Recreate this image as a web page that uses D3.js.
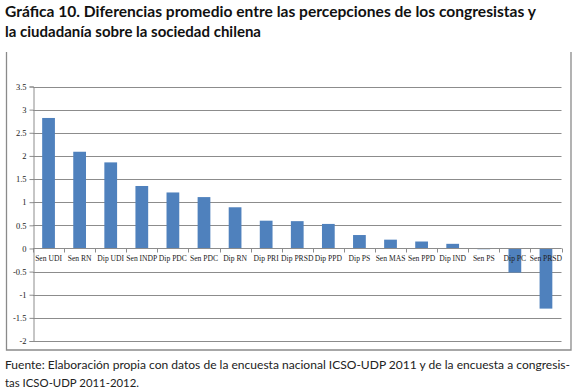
<!DOCTYPE html>
<html><head><meta charset="utf-8">
<script src="https://cdn.jsdelivr.net/npm/d3@7"></script>
<style>body{margin:0;background:#fff}svg{display:block}</style>
</head><body>
<script>
const categories = ["Sen UDI","Sen RN","Dip UDI","Sen INDP","Dip PDC","Sen PDC","Dip RN","Dip PRI","Dip PRSD","Dip PPD","Dip PS","Sen MAS","Sen PPD","Dip IND","Sen PS","Dip PC","Sen PRSD"];
const values = [2.82,2.09,1.86,1.35,1.21,1.11,0.89,0.60,0.59,0.53,0.29,0.19,0.15,0.10,-0.01,-0.52,-1.30];
const yTicks = [-2,-1.5,-1,-0.5,0,0.5,1,1.5,2,2.5,3,3.5];
const titleLines = ["Gráfica 10. Diferencias promedio entre las percepciones de los congresistas y","la ciudadanía sobre la sociedad chilena"];
const footLines = ["Fuente: Elaboración propia con datos de la encuesta nacional ICSO-UDP 2011 y de la encuesta a congresis-","tas ICSO-UDP 2011-2012."];

const W=577,H=392;
const svg=d3.select("body").append("svg").attr("width",W).attr("height",H);

// title
svg.append("text").attr("x",5).attr("y",17).attr("font-family","Lato, 'Open Sans', sans-serif").attr("font-weight","bold").attr("font-size",15.5).attr("fill","#111")
  .attr("textLength",531).attr("lengthAdjust","spacingAndGlyphs").text(titleLines[0]);
svg.append("text").attr("x",5).attr("y",37).attr("font-family","Lato, 'Open Sans', sans-serif").attr("font-weight","bold").attr("font-size",15.5).attr("fill","#111")
  .attr("textLength",256).attr("lengthAdjust","spacingAndGlyphs").text(titleLines[1]);

// frame (left, right, bottom)
const frame=svg.append("g").attr("stroke","#8a8a8a").attr("stroke-width",1.3).attr("fill","none");
frame.append("path").attr("d","M6.5,52 V350 H571 V52");

const m={l:33,r:561.5,t:86.5,b:341};
const y=d3.scaleLinear().domain([-2,3.5]).range([m.b,m.t]);
const x=d3.scaleBand().domain(categories).range([m.l,m.r]).paddingInner(0.59).paddingOuter(0.295);

// gridlines
svg.append("g").selectAll("line").data(yTicks).join("line")
  .attr("x1",m.l).attr("x2",m.r).attr("y1",d=>Math.round(y(d))+0.5).attr("y2",d=>Math.round(y(d))+0.5)
  .attr("stroke","#8c8c8c").attr("stroke-width",1);

// y axis
const ya=svg.append("g").attr("transform",`translate(${m.l+0.5},0)`)
  .call(d3.axisLeft(y).tickValues(yTicks).tickSize(4).tickPadding(3).tickFormat(d=>String(d)));
ya.select(".domain").attr("stroke","#8c8c8c");
ya.selectAll(".tick line").attr("stroke","#8c8c8c");
ya.selectAll(".tick text").attr("font-family","'Liberation Serif', serif").attr("font-size",8.5).attr("fill","#222");

// bars
svg.append("g").selectAll("rect").data(values).join("rect")
  .attr("x",(d,i)=>x(categories[i]))
  .attr("width",x.bandwidth())
  .attr("y",d=>y(Math.max(0,d)))
  .attr("height",d=>Math.max(0.8,Math.abs(y(d)-y(0))))
  .attr("fill","#4f81bd");

// x axis at zero
const xa=svg.append("g").attr("transform",`translate(0,${Math.round(y(0))+0.5})`);
xa.append("line").attr("x1",m.l).attr("x2",m.r).attr("stroke","#8c8c8c");
const step=x.step();
const bounds=d3.range(categories.length+1).map(i=>m.l+i*(m.r-m.l)/categories.length);
xa.selectAll("line.tk").data(bounds).join("line").attr("class","tk")
  .attr("x1",d=>Math.round(d)+0.5).attr("x2",d=>Math.round(d)+0.5).attr("y1",0).attr("y2",4).attr("stroke","#8c8c8c");
xa.selectAll("text").data(categories).join("text")
  .attr("x",d=>x(d)+x.bandwidth()/2).attr("y",12)
  .attr("text-anchor","middle").attr("font-family","'Liberation Serif', serif").attr("font-size",7.6).attr("fill","#222")
  .text(d=>d);

// footer
svg.append("text").attr("x",5).attr("y",369).attr("font-family","Lato, 'Open Sans', sans-serif").attr("font-size",12).attr("fill","#222")
  .attr("textLength",565).attr("lengthAdjust","spacingAndGlyphs").text(footLines[0]);
svg.append("text").attr("x",5).attr("y",387).attr("font-family","Lato, 'Open Sans', sans-serif").attr("font-size",12).attr("fill","#222")
  .attr("textLength",134).attr("lengthAdjust","spacingAndGlyphs").text(footLines[1]);
</script>
</body></html>
